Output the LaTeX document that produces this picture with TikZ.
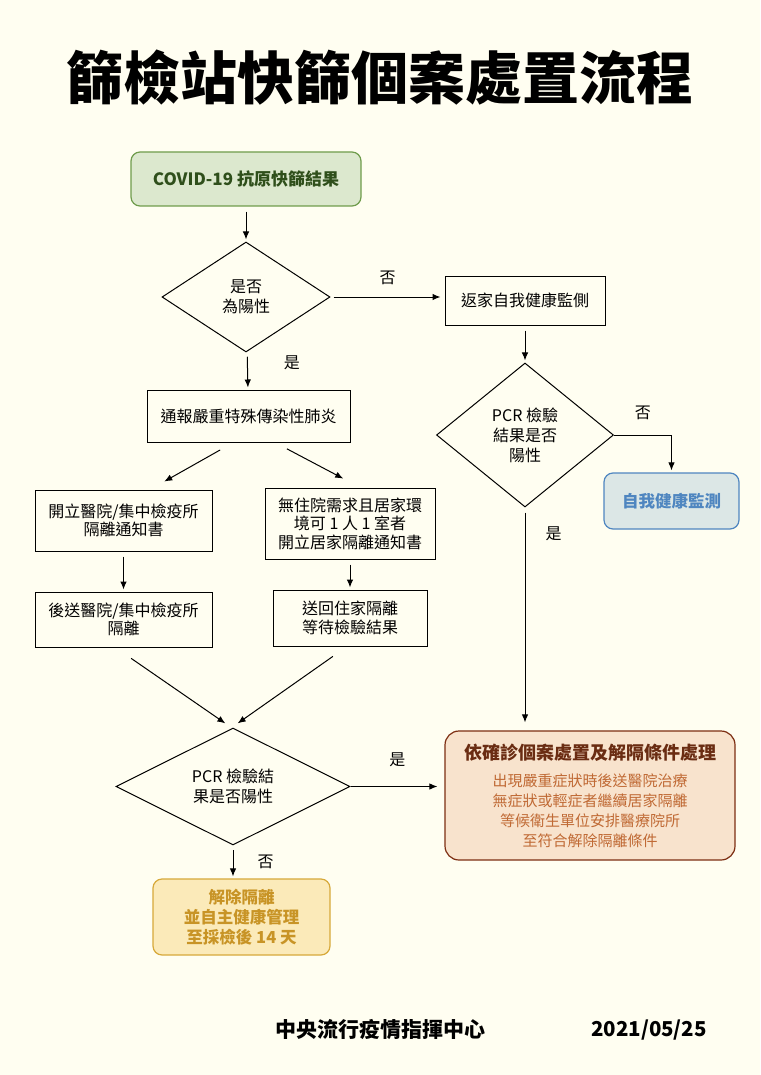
\documentclass[tikz,border=0pt]{standalone}
\usepackage{fontspec}
\setmainfont{Noto Sans CJK TC}
\usetikzlibrary{positioning,shapes.geometric,arrows.meta}
\definecolor{paper}{HTML}{FFFEF1}
\definecolor{leafline}{HTML}{6F9C4C}
\definecolor{leaffill}{HTML}{DCE8CE}
\definecolor{leaftext}{HTML}{2F4F1B}
\definecolor{seaLine}{HTML}{4F86C0}
\definecolor{seaFill}{HTML}{DCE7E6}
\definecolor{rustLine}{HTML}{7D2E12}
\definecolor{rustFill}{HTML}{F8E3CD}
\definecolor{rustHead}{HTML}{6A2C12}
\definecolor{rustText}{HTML}{C06A35}
\definecolor{goldLine}{HTML}{D7A93A}
\definecolor{goldFill}{HTML}{FBEAB9}
\definecolor{goldText}{HTML}{C89426}
\tikzset{box/.style={draw,line width=1pt,align=center,inner sep=2pt,font=\fontsize{16}{18.5}\selectfont}}
\tikzset{ask/.style={diamond,draw,line width=1pt,align=center,inner sep=0pt,font=\fontsize{16}{20}\selectfont}}
\tikzset{endbox/.style={draw,line width=1.2pt,rounded corners=9pt,align=center,font=\bfseries\fontsize{16.5}{20}\selectfont}}
\tikzset{arr/.style={-{Latex[length=8pt,width=6.5pt]},line width=1pt,shorten <=5pt,shorten >=2pt}}
\tikzset{lbl/.style={font=\fontsize{16}{18}\selectfont,inner sep=0pt}}

\begin{document}
\begin{tikzpicture}[x=1pt,y=-1pt]
  \fill[paper] (0,0) rectangle (760,1075);
  \useasboundingbox (0,0) rectangle (760,1075);
  \node[font=\bfseries\fontsize{57}{60}\selectfont] (title) at (380,78) {篩檢站快篩個案處置流程};

  \node[endbox,fill=leaffill,draw=leafline,text=leaftext,minimum width=230pt,minimum height=54pt,font=\bfseries\fontsize{17}{20}\selectfont] (start) at (246,179) {COVID-19 抗原快篩結果};
  \node[ask,minimum width=168pt,minimum height=110pt] (q1) at (246,297) {是否\\為陽性};
  \node[box,minimum width=160pt,minimum height=49pt] (home) at (525,300.5) {返家自我健康監側};
  \node[ask,minimum width=177pt,minimum height=144pt] (q2) at (525,435) {PCR 檢驗\\結果是否\\陽性};
  \node[endbox,fill=seaFill,draw=seaLine,text=seaLine,minimum width=135pt,minimum height=56pt] (selfmon) at (671.5,501) {自我健康監測};
  \node[box,minimum width=203pt,minimum height=52pt] (report) at (248.5,416) {通報嚴重特殊傳染性肺炎};
  \node[box,minimum width=177pt,minimum height=61pt] (hosp) at (123.5,520.5) {開立醫院/集中檢疫所\\隔離通知書};
  \node[box,minimum width=170pt,minimum height=71pt] (homeiso) at (350,523.5) {無住院需求且居家環\\境可 1 人 1 室者\\開立居家隔離通知書};
  \node[box,minimum width=177pt,minimum height=55pt] (transfer) at (123.5,619.5) {後送醫院/集中檢疫所\\隔離};
  \node[box,minimum width=154pt,minimum height=56pt] (back) at (350,618) {送回住家隔離\\等待檢驗結果};
  \node[ask,minimum width=234pt,minimum height=113pt] (q3) at (233,786.5) {PCR 檢驗結\\果是否陽性};
  \node[endbox,rounded corners=14pt,fill=rustFill,draw=rustLine,text=rustText,minimum width=290pt,minimum height=129pt,font=\fontsize{15}{20}\selectfont] (confirm) at (590,795.5)
    {{\color{rustHead}\bfseries\fontsize{18}{20}\selectfont 依確診個案處置及解隔條件處理}\\[7pt]
     出現嚴重症狀時後送醫院治療\\無症狀或輕症者繼續居家隔離\\等候衛生單位安排醫療院所\\至符合解除隔離條件};
  \node[endbox,fill=goldFill,draw=goldLine,text=goldText,minimum width=177pt,minimum height=76pt] (release) at (241.5,917) {解除隔離\\並自主健康管理\\至採檢後 14 天};

  \node[font=\bfseries\fontsize{21}{23}\selectfont] (cdc) at (380,1030) {中央流行疫情指揮中心};
  \node[font=\bfseries\fontsize{20.5}{22}\selectfont] (date) at (649,1030) {2021/05/25};

  \foreach \a/\b in {start/q1,home/q2,hosp/transfer,homeiso/back}
    \draw[arr] (\a) -- (\b);
  \draw[arr,shorten <=3pt,shorten >=4pt] (q1.east) -- (q1.east -| home.west) node[lbl,midway,above=12pt] {否};
  \draw[arr] (q1) -- (report) node[lbl,pos=0.3,right=36pt] {是};
  \draw[arr,shorten <=0pt] (q2.east) -| (selfmon.north) node[lbl,pos=0.25,above=15pt] {否};
  \draw[arr,shorten >=8pt] (q2.south) -- (q2.south |- confirm.north) node[lbl,pos=0.12,right=20pt] {是};
  \draw[arr] ([shift={(-24,5)}]report.south) -- ([shift={(39,-7)}]hosp.north);
  \draw[arr] ([shift={(34,4)}]report.south) -- ([shift={(-5,-8)}]homeiso.north);
  \draw[arr] ([shift={(3.5,8)}]transfer.south) -- ([shift={(-6,-3)}]q3.north);
  \draw[arr] ([shift={(-13,7)}]back.south) -- ([shift={(3,-3)}]q3.north);
  \draw[arr,shorten <=0pt,shorten >=7pt] (q3.east) -- (confirm.west |- q3.east) node[lbl,midway,above=19pt] {是};
  \draw[arr] (q3.south) -- (q3.south |- release.north) node[lbl,midway,right=24pt] {否};
\end{tikzpicture}
\end{document}
